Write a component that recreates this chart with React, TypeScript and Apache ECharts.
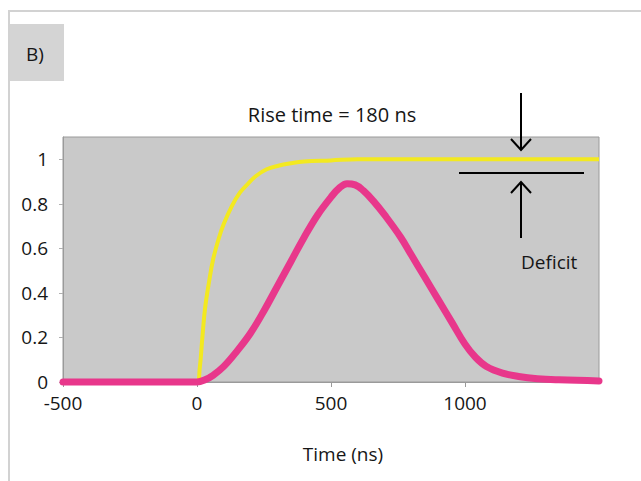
import React, { useEffect, useRef } from "react";
import * as echarts from "echarts";

// Step response (yellow): [time ns, amplitude]
const stepTimes = [-500, 0, 10, 20, 30, 45, 60, 80, 100, 130, 160, 190, 220, 260, 300, 350, 400, 500, 600, 1500];
const stepValues = [0, 0, 0.06, 0.2, 0.33, 0.45, 0.55, 0.64, 0.71, 0.79, 0.85, 0.89, 0.925, 0.955, 0.97, 0.982, 0.99, 0.995, 1, 1];

// Pulse response (magenta)
const pulseTimes = [-500, 0, 30, 60, 100, 150, 200, 250, 300, 350, 400, 450, 500, 530, 560, 590, 620, 660, 700, 760, 800, 850, 900, 950, 1000, 1040, 1080, 1140, 1200, 1270, 1350, 1500];
const pulseValues = [0, 0, 0.01, 0.03, 0.07, 0.14, 0.22, 0.32, 0.43, 0.54, 0.65, 0.75, 0.83, 0.87, 0.89, 0.885, 0.86, 0.81, 0.75, 0.65, 0.57, 0.47, 0.37, 0.27, 0.17, 0.11, 0.07, 0.04, 0.025, 0.015, 0.01, 0.005];

const titleText = "Rise time = 180 ns";
const xAxisName = "Time (ns)";
const panelLabel = "B)";
const deficitLabel = "Deficit";

const FONT = "'Open Sans', 'Noto Sans', sans-serif";
const TEXT_COLOR = "#161616";
const FS = 19;

export default function App() {
  const ref = useRef<HTMLDivElement>(null);

  useEffect(() => {
    if (!ref.current) return;
    const chart = echarts.init(ref.current, null, { renderer: "svg" });
    const stepData = stepTimes.map((t, i) => [t, stepValues[i]]);
    const pulseData = pulseTimes.map((t, i) => [t, pulseValues[i]]);

    chart.setOption({
      animation: false,
      backgroundColor: "#ffffff",
      textStyle: { fontFamily: FONT },
      grid: {
        left: 63,
        right: 42,
        top: 137,
        bottom: 99,
        show: true,
        backgroundColor: "#c9c9c9",
        borderColor: "#9a9a9a",
        borderWidth: 1,
      },
      xAxis: {
        type: "value",
        min: -500,
        max: 1500,
        interval: 500,
        name: xAxisName,
        nameLocation: "middle",
        nameGap: 62,
        nameTextStyle: { fontSize: FS, color: TEXT_COLOR, fontFamily: FONT, padding: [0, 0, 0, 24] },
        axisLine: { show: true, onZero: false, lineStyle: { color: "#9a9a9a", width: 1 } },
        axisTick: { show: true, length: 5, lineStyle: { color: "#9a9a9a" } },
        axisLabel: {
          fontSize: FS,
          color: TEXT_COLOR,
          fontFamily: FONT,
          margin: 11,
          showMaxLabel: false,
          formatter: (v: number) => String(v),
        },
        splitLine: { show: false },
      },
      yAxis: {
        type: "value",
        min: 0,
        max: 1.1,
        interval: 0.2,
        axisLine: { show: true, onZero: false, lineStyle: { color: "#9a9a9a", width: 1 } },
        axisTick: { show: true, length: 4, lineStyle: { color: "#b0b0b0" } },
        axisLabel: {
          fontSize: FS,
          color: TEXT_COLOR,
          fontFamily: FONT,
          margin: 15,
          showMaxLabel: false,
          formatter: (v: number) => {
            if (v > 1.05) return "";
            return String(Math.round(v * 10) / 10);
          },
        },
        splitLine: { show: false },
      },
      series: [
        {
          type: "line",
          data: stepData,
          showSymbol: false,
          smooth: 0.4,
          clip: false,
          lineStyle: { color: "#f3e920", width: 4 },
          z: 2,
        },
        {
          type: "line",
          data: pulseData,
          showSymbol: false,
          smooth: 0.4,
          clip: false,
          lineStyle: { color: "#e8378b", width: 7, cap: "round", join: "round" },
          z: 3,
        },
      ],
      graphic: [
        // outer frame
        { type: "line", shape: { x1: 8, y1: 11, x2: 641, y2: 11 }, style: { stroke: "#d2d2d2", lineWidth: 2 } },
        { type: "line", shape: { x1: 9, y1: 10, x2: 9, y2: 481 }, style: { stroke: "#d2d2d2", lineWidth: 2 } },
        // panel label box
        { type: "rect", shape: { x: 10, y: 24, width: 54, height: 57 }, style: { fill: "#d4d4d4" } },
        {
          type: "text",
          x: 26,
          y: 54,
          style: { text: panelLabel, fontSize: FS, fontFamily: FONT, fill: TEXT_COLOR, verticalAlign: "middle", align: "left" },
        },
        // title
        {
          type: "text",
          x: 332,
          y: 114,
          style: { text: titleText, fontSize: 20, fontFamily: FONT, fill: TEXT_COLOR, verticalAlign: "middle", align: "center" },
        },
        // deficit annotation: down arrow
        { type: "line", shape: { x1: 521, y1: 93, x2: 521, y2: 150 }, style: { stroke: "#000", lineWidth: 2 }, z: 10 },
        { type: "polyline", shape: { points: [[511, 139], [521, 150], [531, 139]] }, style: { stroke: "#000", lineWidth: 2, fill: "none" }, z: 10 },
        // horizontal bar
        { type: "line", shape: { x1: 459, y1: 173, x2: 584, y2: 173 }, style: { stroke: "#000", lineWidth: 2 }, z: 10 },
        // up arrow
        { type: "line", shape: { x1: 521, y1: 182, x2: 521, y2: 238 }, style: { stroke: "#000", lineWidth: 2 }, z: 10 },
        { type: "polyline", shape: { points: [[511, 193], [521, 182], [531, 193]] }, style: { stroke: "#000", lineWidth: 2, fill: "none" }, z: 10 },
        {
          type: "text",
          x: 521,
          y: 262,
          style: { text: deficitLabel, fontSize: FS, fontFamily: FONT, fill: TEXT_COLOR, verticalAlign: "middle", align: "left" },
          z: 10,
        },
      ],
    });

    return () => chart.dispose();
  }, []);

  return (
    <div
      ref={ref}
      style={{ position: "fixed", left: 0, top: 0, width: 641, height: 481, background: "#fff" }}
    />
  );
}
